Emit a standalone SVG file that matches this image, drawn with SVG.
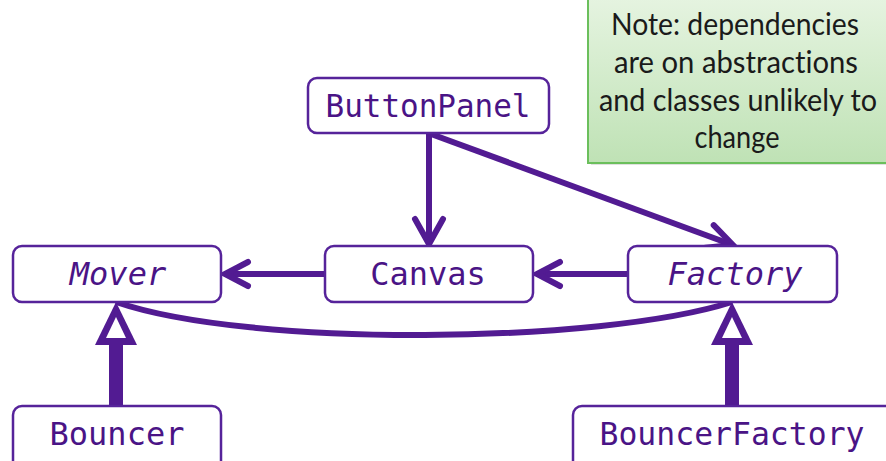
<svg xmlns="http://www.w3.org/2000/svg" width="886" height="461" viewBox="0 0 886 461">
<defs>
<linearGradient id="noteGrad" x1="0" y1="0" x2="0" y2="1">
<stop offset="0" stop-color="#e6f4e1"/>
<stop offset="1" stop-color="#bfe2b5"/>
</linearGradient>
<style>
.box{fill:#ffffff;stroke:#56239a;stroke-width:2.5}
.lbl{font-family:"DejaVu Sans Mono",monospace;font-size:32px;fill:#4a1486;text-anchor:middle}
.it{font-style:italic}
.conn{fill:none;stroke:#521b92;stroke-width:6;stroke-linecap:butt}
.head{fill:none;stroke:#521b92;stroke-width:6;stroke-linecap:round;stroke-linejoin:miter}
.inh{fill:#521b92}
.note{font-family:Lato,"Open Sans",sans-serif;font-size:31px;fill:#1a1a1a;text-anchor:middle;font-variant-ligatures:none}
</style>
</defs>

<g id="note">
<rect x="591" y="-5" width="305" height="170" fill="#000" opacity="0.12"/>
<rect x="588" y="-5" width="305" height="168" fill="url(#noteGrad)" stroke="#6bbf5c" stroke-width="2"/>
<text class="note" x="735" y="35" textLength="248" lengthAdjust="spacingAndGlyphs">Note: dependencies</text>
<text class="note" x="736" y="73" textLength="244" lengthAdjust="spacingAndGlyphs">are on abstractions</text>
<text class="note" x="738" y="111" textLength="278" lengthAdjust="spacingAndGlyphs">and classes unlikely to</text>
<text class="note" x="737" y="148" textLength="85" lengthAdjust="spacingAndGlyphs">change</text>
</g>

<g id="connectors">
<line class="conn" x1="429" y1="134" x2="429" y2="244"/>
<polyline class="head" points="415,219 429,244 443,219"/>
<line class="conn" x1="431" y1="134" x2="730" y2="244"/>
<polyline class="head" points="713.7,225.1 733,245 705.5,247.7"/>
<line class="conn" x1="325" y1="274" x2="226" y2="274"/>
<polyline class="head" points="248,262 225,274 248,286"/>
<line class="conn" x1="628" y1="274" x2="537" y2="274"/>
<polyline class="head" points="560,262 537,274 560,286"/>
<path class="conn" d="M 116 302 C 250 348, 600 344, 732 302"/>
<polygon class="inh" points="116,302 95,345 137,345"/>
<polygon fill="#ffffff" points="116,317 106,338 126,338"/>
<rect class="inh" x="109" y="344" width="14" height="63"/>
<polygon class="inh" points="732,302 711,345 753,345"/>
<polygon fill="#ffffff" points="732,317 722,338 742,338"/>
<rect class="inh" x="725" y="344" width="14" height="63"/>
</g>

<g id="ButtonPanel">
<rect class="box" x="308" y="78" width="241" height="55" rx="9"/>
<text class="lbl" x="428" y="117" textLength="205" lengthAdjust="spacingAndGlyphs">ButtonPanel</text>
</g>
<g id="Mover">
<rect class="box" x="13" y="246" width="208" height="56" rx="9"/>
<text class="lbl it" x="118" y="285">Mover</text>
</g>
<g id="Canvas">
<rect class="box" x="325" y="246" width="208" height="56" rx="9"/>
<text class="lbl" x="428" y="285">Canvas</text>
</g>
<g id="Factory">
<rect class="box" x="628" y="246" width="209" height="56" rx="9"/>
<text class="lbl it" x="735" y="285">Factory</text>
</g>
<g id="Bouncer">
<rect class="box" x="13" y="406" width="208" height="70" rx="9"/>
<text class="lbl" x="117" y="445">Bouncer</text>
</g>
<g id="BouncerFactory">
<rect class="box" x="573" y="406" width="330" height="70" rx="9"/>
<text class="lbl" x="732" y="445" textLength="265" lengthAdjust="spacingAndGlyphs">BouncerFactory</text>
</g>
</svg>
